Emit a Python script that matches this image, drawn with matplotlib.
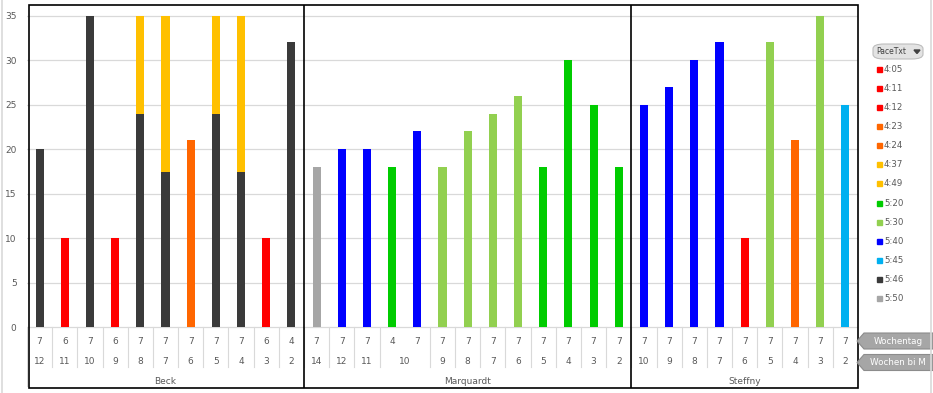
import matplotlib
matplotlib.use("Agg")
from matplotlib import pyplot as plt
from matplotlib.patches import Rectangle, FancyBboxPatch, Polygon
from matplotlib.lines import Line2D

# --- data ---
trainer = ['Beck', 'Marquardt', 'Steffny']
n_per_trainer = [11, 13, 9]
wochentag = [7, 6, 7, 6, 7, 7, 7, 7, 7, 6, 4,
             7, 7, 7, 4, 7, 7, 7, 7, 7, 7, 7, 7, 7,
             7, 7, 7, 7, 7, 7, 7, 7, 7]
wochen = [12, 11, 10, 9, 8, 7, 6, 5, 4, 3, 2,
          14, 12, 11, 10, 10, 9, 8, 7, 6, 5, 4, 3, 2,
          10, 9, 8, 7, 6, 5, 4, 3, 2]
pace_a = ['5:46', '4:11', '5:46', '4:12', '5:46', '5:46', '4:23', '5:46', '5:46', '4:05', '5:46',
          '5:50', '5:40', '5:40', '5:20', '5:40', '5:30', '5:30', '5:30', '5:30', '5:20', '5:20', '5:20', '5:20',
          '5:40', '5:40', '5:40', '5:40', '4:05', '5:30', '4:24', '5:30', '5:45']
km_a = [20, 10, 35, 10, 24, 17.5, 21, 24, 17.5, 10, 32,
        18, 20, 20, 18, 22, 18, 22, 24, 26, 18, 30, 25, 18,
        25, 27, 30, 32, 10, 32, 21, 35, 25]
pace_b = [None, None, None, None, '4:37', '4:49', None, '4:37', '4:49', None, None,
          None, None, None, None, None, None, None, None, None, None, None, None, None,
          None, None, None, None, None, None, None, None, None]
km_b = [0, 0, 0, 0, 11, 17.5, 0, 11, 17.5, 0, 0,
        0, 0, 0, 0, 0, 0, 0, 0, 0, 0, 0, 0, 0,
        0, 0, 0, 0, 0, 0, 0, 0, 0]
paces = ['4:05', '4:11', '4:12', '4:23', '4:24', '4:37', '4:49',
         '5:20', '5:30', '5:40', '5:45', '5:46', '5:50']
pace_colors = ['#FF0000', '#FF0000', '#FF0000', '#FF6600', '#FF6600', '#FFC000', '#FFC000',
               '#00CC00', '#92D050', '#0000FF', '#00B0F0', '#3A3A3A', '#A6A6A6']
color_of = dict(zip(paces, pace_colors))

W, H = 933, 393
fig = plt.figure(figsize=(W / 100, H / 100), dpi=100)

def fx(px):
    return px / W

def fy(py):
    return 1 - py / H

# axes box in pixels
left, right, top, bottom = 27, 858, 4.7, 388
y0px, y35px = 327.3, 15.7
ppu = (y0px - y35px) / 35.0
ax = fig.add_axes([fx(left), fy(bottom), fx(right) - fx(left), (bottom - top) / H])
ax.set_xlim(-0.5, len(km_a) - 0.5)
ax.set_ylim(-(bottom - y0px) / ppu, (y0px - top) / ppu)

def ydata(py):
    return (y0px - py) / ppu

x = list(range(len(km_a)))
ax.bar(x, km_a, width=0.32, color=[color_of[p] for p in pace_a], zorder=3)
ax.bar(x, km_b, width=0.32, bottom=km_a,
       color=[color_of[p] if p else 'none' for p in pace_b], zorder=3)

ax.set_yticks(range(0, 36, 5))
ax.tick_params(axis='y', length=0, pad=7.5, labelsize=6.5, labelcolor='#595959')
ax.set_xticks([])
for s in ax.spines.values():
    s.set_visible(False)
for v in range(0, 36, 5):
    ax.plot([-0.5, len(km_a) - 0.5], [v, v], color='#D9D9D9', lw=0.9, zorder=1)

# category label rows
tc = '#595959'
fs = 6.5
r1, r2, r3 = ydata(341), ydata(361), ydata(381)
sep_bot = ydata(367)
i = 0
while i < len(x):
    j = i
    # merge equal neighbouring week labels inside a group
    while j + 1 < len(x) and wochen[j + 1] == wochen[i] and pace_a[j + 1] != pace_a[i]:
        j += 1
    ax.text((i + j) / 2, r2, str(wochen[i]), ha='center', va='center', fontsize=fs, color=tc)
    for k in range(i, j + 1):
        ax.text(k, r1, str(wochentag[k]), ha='center', va='center', fontsize=fs, color=tc)
    if j + 1 < len(x):
        ax.plot([j + 0.5, j + 0.5], [0, sep_bot], color='#D9D9D9', lw=0.8, zorder=1)
    i = j + 1
ax.plot([-0.5, -0.5], [0, ydata(386)], color='#D9D9D9', lw=0.8)

start = 0
for name, n in zip(trainer, n_per_trainer):
    ax.text(start + (n - 1) / 2, r3, name, ha='center', va='center', fontsize=fs, color=tc)
    start += n
    if start < len(x):
        ax.plot([start - 0.5, start - 0.5], [ax.get_ylim()[0], ax.get_ylim()[1]],
                color='black', lw=1.2, zorder=4)

# black frame
fig.add_artist(Rectangle((fx(29), fy(bottom)), fx(right) - fx(29), (bottom - top) / H,
                         transform=fig.transFigure, fill=False, ec='black', lw=1.2))
# outer light frame
fig.add_artist(Line2D([fx(1.5), fx(1.5)], [0, 1], color='#D9D9D9', lw=1.2))
fig.add_artist(Line2D([fx(931), fx(931)], [0, 1], color='#D9D9D9', lw=1.2))

# legend with field button
fig.add_artist(FancyBboxPatch((fx(873), fy(59)), fx(923) - fx(873), 15 / H,
                              boxstyle='round,pad=0,rounding_size=0.012',
                              transform=fig.transFigure, fc='#E3E3E3', ec='#BDBDBD', lw=0.8))
fig.text(fx(876), fy(51.5), 'PaceTxt', fontsize=5.5, color='#404040', va='center')
fig.add_artist(Polygon([(fx(914), fy(50)), (fx(920), fy(50)), (fx(917), fy(53.5))],
                       transform=fig.transFigure, color='#404040'))
for k, (p, c) in enumerate(zip(paces, pace_colors)):
    yy = 69 + k * 19.15
    fig.add_artist(Rectangle((fx(877), fy(yy + 2.5)), 5 / W, 5 / H,
                             transform=fig.transFigure, color=c))
    fig.text(fx(884), fy(yy), p, fontsize=6.2, color='#595959', va='center')

# axis field buttons
for label, yc in [('Wochentag', 341), ('Wochen bi M', 362.5)]:
    pts = [(857, yc), (864, yc - 8), (933, yc - 8), (933, yc + 8), (864, yc + 8)]
    fig.add_artist(Polygon([(fx(a), fy(b)) for a, b in pts], transform=fig.transFigure,
                           fc='#A6A6A6', ec='#8C8C8C', lw=0.8))
    fig.text(fx(898), fy(yc), label, fontsize=6.3, color='white', ha='center', va='center')

fig.savefig('out.png', dpi=100)
